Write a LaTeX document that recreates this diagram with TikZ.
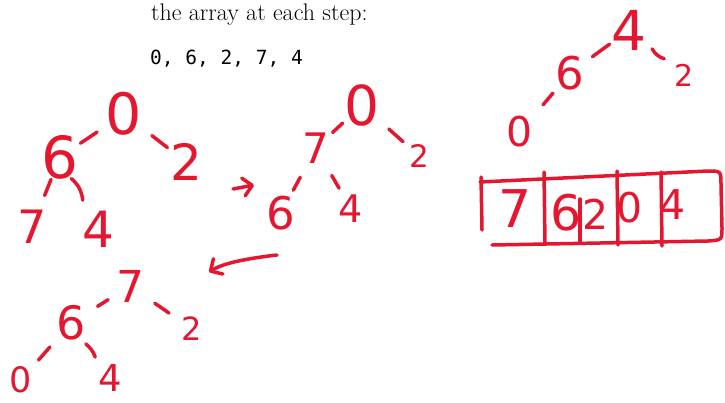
\documentclass[tikz,border=0pt]{standalone}
\usepackage{fontspec}
\newfontfamily\hand{DejaVu Sans}
\newfontfamily\monofam{DejaVu Sans Mono}
\usetikzlibrary{calc,arrows.meta}
\definecolor{ink}{RGB}{228,22,48}
\begin{document}
\begin{tikzpicture}[x=1pt,y=-1pt,
  dig/.style={text=ink, font=\hand\fontsize{#1}{#1}\selectfont, inner sep=0pt},
  dig/.default=50,
  stroke/.style={draw=ink, line width=3.5pt, line cap=round, line join=round},
  tip/.style={-{Straight Barb[round,length=9pt,width=18pt]}},
  lbl/.style={anchor=base west, inner sep=0pt, font=\fontsize{24}{29}\selectfont}]
\useasboundingbox (0,0) rectangle (725,402);

% caption text
\node[lbl] (cap) at (151,20) {the array at each step:};
\node[lbl, font=\monofam\fontsize{19.5}{24}\selectfont] (seq) at (150,64) {0, 6, 2, 7, 4};

% ---- tree 1
\node[dig=57] (a0) at (124,114) {0};
\node[dig=58] (a6) at (60,157) {6};
\node[dig=50] (a2) at (186,162) {2};
\node[dig=46] (a7) at (32,227) {7};
\node[dig=50] (a4) at (98,229) {4};
\draw[stroke] ($(a0)!.42!(a6)$) -- ($(a0)!.68!(a6)$);
\draw[stroke] ($(a0)!.45!(a2)$) -- ($(a0)!.70!(a2)$);
\draw[stroke] ($(a6)!.32!(a7)$) -- ($(a6)!.55!(a7)$);
\draw[stroke] ($(a6)!.30!(a4)$) to[bend left=20] ($(a6)!.60!(a4)$);

% arrow 1
\coordinate (r1s) at (233,189);
\coordinate (r1e) at (254,185);
\draw[stroke,tip] (r1s) -- (r1e);

% ---- tree 2
\node[dig=55] (b0) at (362,105) {0};
\node[dig=42] (b7) at (316,148) {7};
\node[dig=31] (b2) at (419,156) {2};
\node[dig=45] (b6) at (281,213) {6};
\node[dig=38] (b4) at (351,209) {4};
\draw[stroke] ($(b7)!.36!(b0)$) -- ($(b7)!.58!(b0)$);
\draw[stroke] ($(b0)!.47!(b2)$) -- ($(b0)!.72!(b2)$);
\draw[stroke] ($(b7)!.45!(b6)$) -- ($(b7)!.65!(b6)$);
\draw[stroke] ($(b7)!.45!(b4)$) -- ($(b7)!.66!(b4)$);

% arrow 2
\coordinate (r2s) at (277,255);
\coordinate (r2e) at (209,272);
\draw[stroke,tip] (r2s) .. controls (242,259) and (222,264) .. (r2e);

% ---- tree 3
\node[dig=44] (c7) at (130,286) {7};
\node[dig=46] (c6) at (71,323) {6};
\node[dig=32] (c2) at (192,329) {2};
\node[dig=35] (c0) at (21,380) {0};
\node[dig=37] (c4) at (110,378) {4};
\draw[stroke] ($(c7)!.37!(c6)$) -- ($(c7)!.55!(c6)$);
\draw[stroke] ($(c7)!.40!(c2)$) -- ($(c7)!.63!(c2)$);
\draw[stroke] ($(c6)!.42!(c0)$) -- ($(c6)!.65!(c0)$);
\draw[stroke] ($(c6)!.38!(c4)$) to[bend left=15] ($(c6)!.62!(c4)$);

% ---- tree 4
\node[dig=55] (d4) at (629,30) {4};
\node[dig=45] (d6) at (570,73) {6};
\node[dig=30] (d2) at (684,75) {2};
\node[dig=41] (d0) at (520,132) {0};
\draw[stroke] ($(d4)!.33!(d6)$) -- ($(d4)!.62!(d6)$);
\draw[stroke] ($(d4)!.42!(d2)$) to[bend right=20] ($(d4)!.64!(d2)$);
\draw[stroke] ($(d6)!.34!(d0)$) -- ($(d6)!.54!(d0)$);

% ---- array
\draw[stroke] (481,177) -- (482,230);
\draw[stroke] (480,182) -- (708,171) .. controls (721,171) .. (721,185)
  -- (722,228) .. controls (722,240) .. (708,241) -- (492,245);
\draw[stroke] (544,172) -- (545,243);
\draw[stroke] (580,199) -- (580,243);
\draw[stroke] (617,171) -- (618,245);
\draw[stroke] (661,172) -- (662,246);
\node[dig=52] (e7) at (515,209) {7};
\node[dig=49] (e6) at (566,213) {6};
\node[dig=41] (e2) at (596,214) {2};
\node[dig=41] (e0) at (630,208) {0};
\node[dig=41] (e4) at (673,205) {4};
\end{tikzpicture}
\end{document}
